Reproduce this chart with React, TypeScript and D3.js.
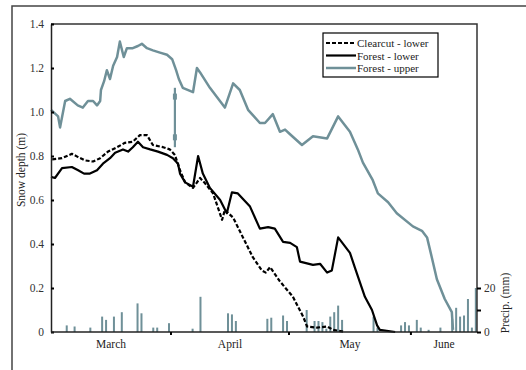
import React, { useEffect, useRef } from 'react';
import * as d3 from 'd3';

// day index: 0 = March 1
const monthNames = ['March', 'April', 'May', 'June'];
const monthStarts = [0, 31, 61, 92, 122];

// Forest - upper snow depth (m)
const upperDays = [0.5, 2.3, 2.8, 4.1, 5.3, 7.3, 8.6, 9.9, 11.2, 12.2, 13, 13.2, 14, 14.7, 15.5, 16.3, 17.3, 18, 19, 19.8,
  21.3, 22.6, 23.6, 24.9, 26.4, 28.2, 30, 31.3, 32.3, 33, 34, 36.6, 37.6, 38.4, 40.9, 44.7, 46.8, 48.5, 50.6, 53.6,
  54.9, 56.9, 58.7, 60, 61.2, 64.3, 67.1, 70.7, 73.5, 76.5, 78.5, 79.8, 82.3, 83.6, 86.2, 88.4, 92.5, 94.8, 96.1,
  97.3, 98.6, 100.6, 102.4, 102.7];
const upperDepth = [1.01, 0.98, 0.93, 1.05, 1.06, 1.03, 1.02, 1.05, 1.05, 1.03, 1.05, 1.10, 1.14, 1.19, 1.15, 1.21, 1.25, 1.32, 1.25, 1.29,
  1.29, 1.30, 1.31, 1.29, 1.28, 1.27, 1.26, 1.24, 1.19, 1.15, 1.11, 1.09, 1.20, 1.18, 1.11, 1.02, 1.13, 1.10, 1.01, 0.95,
  0.95, 0.99, 0.91, 0.92, 0.90, 0.85, 0.89, 0.88, 0.98, 0.91, 0.83, 0.77, 0.69, 0.63, 0.59, 0.54, 0.48, 0.46, 0.43,
  0.34, 0.24, 0.15, 0.09, 0.01];

// Forest - lower snow depth (m)
const lowerDays = [0.5, 1.5, 3.3, 5.8, 7.4, 8.9, 10.4, 12.2, 13.7, 15.5, 16.8, 18.8, 20.1, 21.3, 22.6, 23.9, 25.7, 27.7, 30,
  31.5, 32.8, 33.3, 34.6, 36.6, 37.9, 39.1, 40.9, 43.5, 45.2, 46.5, 48, 51.1, 53.6, 55.7, 57.4, 59.5, 61.3, 63, 63.8,
  67.1, 68.9, 70.7, 71.9, 73.5, 76.5, 77.8, 80.3, 82.1, 83.4, 84.1, 88];
const lowerDepth = [0.705, 0.70, 0.745, 0.75, 0.735, 0.72, 0.72, 0.735, 0.765, 0.79, 0.815, 0.83, 0.82, 0.84, 0.865, 0.84, 0.83, 0.82, 0.805,
  0.79, 0.765, 0.72, 0.68, 0.66, 0.80, 0.72, 0.655, 0.60, 0.54, 0.635, 0.63, 0.57, 0.47, 0.477, 0.47, 0.41, 0.405, 0.386, 0.32,
  0.305, 0.31, 0.27, 0.28, 0.43, 0.36, 0.29, 0.16, 0.10, 0.03, 0.01, 0.0];

// Clearcut - lower snow depth (m)
const clearDays = [0.8, 3.3, 5.8, 7.4, 9.1, 11.2, 13, 15, 17.3, 19.3, 21.3, 23.1, 24.9, 26.4, 29, 30.7, 32, 33.3, 34.6, 36.6,
  38.4, 39.6, 41.7, 44, 44.7, 46.8, 49.3, 51.8, 54.1, 55.1, 56.2, 58.7, 62, 64.6, 65.6, 68.1, 70.7, 72.2, 75.2];
const clearDepth = [0.785, 0.79, 0.81, 0.795, 0.78, 0.775, 0.79, 0.82, 0.84, 0.86, 0.865, 0.895, 0.895, 0.85, 0.84, 0.83, 0.805, 0.735, 0.68, 0.655,
  0.70, 0.677, 0.63, 0.51, 0.555, 0.52, 0.43, 0.34, 0.28, 0.27, 0.295, 0.23, 0.16, 0.07, 0.025, 0.02, 0.025, 0.01, 0];

// daily precipitation (mm)
const precipDays = [4, 6, 10, 13, 14, 16, 18, 22, 23, 26, 27, 30, 36, 38, 45, 46, 47, 55, 56, 59, 60, 65, 67, 68, 69, 70, 71, 72,
  73, 74, 82, 83, 89, 90, 91, 93, 94, 96, 99, 102, 103, 104, 105, 106, 107, 108];
const precipMm = [3, 2.5, 2, 7, 5.5, 7, 9, 13, 8.5, 2, 2, 4, 1.5, 16, 8.5, 8, 5, 6, 6.5, 7.5, 5, 10, 5, 5, 4.5, 1.5, 7, 9,
  12, 5.5, 7, 2, 3, 4.5, 3, 5.5, 2, 1, 2, 6, 11, 7, 7.5, 15, 2, 20];

// annotation bar (day, top, bottom) in m
const markDay = 32;
const markRange = [1.11, 0.84];
const markTicks = [1.07, 0.885];

const depthTicks = [0, 0.2, 0.4, 0.6, 0.8, 1.0, 1.2, 1.4];
const precipTicks = [0, 10, 20];

const legendItems = [
  { label: 'Clearcut - lower', color: '#000', dash: '4,2', width: 2.2 },
  { label: 'Forest - lower', color: '#000', dash: null, width: 2.2 },
  { label: 'Forest - upper', color: '#6f9098', dash: null, width: 2.5 },
];

const GRAY = '#6f9098';
const FONT = "'Liberation Serif', 'Times New Roman', serif";

const SnowChart = () => {
  const svgRef = useRef<SVGSVGElement>(null);

  useEffect(() => {
    if (!svgRef.current) return;
    const svg = d3.select(svgRef.current);
    svg.selectAll('*').remove();

    const left = 51, right = 477, top = 24, bottom = 332;

    const x = d3.scaleLinear().domain([0.5, 108.8]).range([left, right]);
    const y = d3.scaleLinear().domain([0, 1.4]).range([bottom, top]);
    const yP = d3.scaleLinear().domain([0, 140]).range([bottom, top]);

    // outer figure frame
    svg.append('path')
      .attr('d', `M12,370 V6 H526`)
      .attr('fill', 'none')
      .attr('stroke', '#444')
      .attr('stroke-width', 1.5);

    // precip bars
    svg.append('g').selectAll('rect')
      .data(precipDays.map((d, i) => ({ d, v: precipMm[i] })))
      .enter()
      .append('rect')
      .attr('x', p => x(p.d + 0.5) - 1)
      .attr('width', 2)
      .attr('y', p => yP(p.v))
      .attr('height', p => bottom - yP(p.v))
      .attr('fill', GRAY);

    const line = d3.line<[number, number]>()
      .x(p => x(p[0]))
      .y(p => y(p[1]));

    const series = [
      { days: upperDays, vals: upperDepth, color: GRAY, width: 2.5, dash: null },
      { days: lowerDays, vals: lowerDepth, color: '#000', width: 2.2, dash: null },
      { days: clearDays, vals: clearDepth, color: '#000', width: 2.2, dash: '4,2' },
    ];
    series.forEach(s => {
      svg.append('path')
        .datum(s.days.map((d, i) => [d, s.vals[i]] as [number, number]))
        .attr('d', line)
        .attr('fill', 'none')
        .attr('stroke', s.color)
        .attr('stroke-width', s.width)
        .attr('stroke-linejoin', 'round')
        .attr('stroke-dasharray', s.dash);
    });

    // annotation bar
    svg.append('line')
      .attr('x1', x(markDay)).attr('x2', x(markDay))
      .attr('y1', y(markRange[0])).attr('y2', y(markRange[1]))
      .attr('stroke', GRAY).attr('stroke-width', 2.2);
    svg.append('g').selectAll('rect')
      .data(markTicks)
      .enter()
      .append('rect')
      .attr('x', x(markDay) - 2)
      .attr('y', d => y(d) - 3)
      .attr('width', 4)
      .attr('height', 6)
      .attr('fill', GRAY);

    // plot frame top + right
    svg.append('path')
      .attr('d', `M${left},${top} H${right} V${bottom}`)
      .attr('fill', 'none')
      .attr('stroke', '#333')
      .attr('stroke-width', 1.5);

    // left axis
    const ax = svg.append('g')
      .attr('transform', `translate(${left},0)`)
      .call(d3.axisLeft(y).tickValues(depthTicks).tickSize(-3).tickSizeOuter(0).tickPadding(7)
        .tickFormat(d => (+d === 0 ? '0' : (+d).toFixed(1))));
    ax.select('.domain').attr('stroke', '#222').attr('stroke-width', 1.5);
    ax.selectAll('.tick line').attr('stroke', '#000').attr('stroke-width', 2);
    ax.selectAll('.tick text').style('font-family', FONT).style('font-size', '11.5px').attr('fill', '#333');

    // bottom axis
    svg.append('line')
      .attr('x1', left).attr('x2', right).attr('y1', bottom).attr('y2', bottom)
      .attr('stroke', '#222').attr('stroke-width', 1.5);
    svg.append('g').selectAll('line')
      .data(monthStarts.slice(1, 4))
      .enter()
      .append('line')
      .attr('x1', d => x(d)).attr('x2', d => x(d))
      .attr('y1', bottom).attr('y2', bottom + 3)
      .attr('stroke', '#000').attr('stroke-width', 2);
    const [d0, d1] = x.domain();
    svg.append('g').selectAll('text')
      .data(monthNames)
      .enter()
      .append('text')
      .attr('x', (m, i) => (x(Math.max(monthStarts[i], d0)) + x(Math.min(monthStarts[i + 1], d1))) / 2)
      .attr('y', 348)
      .attr('text-anchor', 'middle')
      .style('font-family', FONT)
      .style('font-size', '11.5px')
      .attr('fill', '#222')
      .text(m => m);

    // right axis (precip)
    const axr = svg.append('g')
      .attr('transform', `translate(${right},0)`)
      .call(d3.axisRight(yP).tickValues(precipTicks).tickSize(4).tickSizeOuter(0).tickPadding(3)
        .tickFormat(d => (+d === 10 ? '' : String(d))));
    axr.select('.domain').remove();
    axr.selectAll('.tick line').attr('stroke', '#000').attr('stroke-width', 2);
    axr.selectAll('.tick text').style('font-family', FONT).style('font-size', '11.5px').attr('fill', '#333');

    // axis titles
    svg.append('text')
      .attr('transform', 'translate(25,170) rotate(-90)')
      .attr('text-anchor', 'middle')
      .style('font-family', FONT)
      .style('font-size', '11.5px')
      .attr('fill', '#222')
      .text('Snow depth (m)');
    svg.append('text')
      .attr('transform', 'translate(509,303) rotate(-90)')
      .attr('text-anchor', 'middle')
      .style('font-family', FONT)
      .style('font-size', '11.5px')
      .attr('fill', '#222')
      .text('Precip. (mm)');

    // legend
    const lg = svg.append('g');
    lg.append('rect')
      .attr('x', 323).attr('y', 33).attr('width', 115).attr('height', 44)
      .attr('fill', '#fff').attr('stroke', '#000').attr('stroke-width', 1.2);
    legendItems.forEach((it, i) => {
      const ly = 43 + i * 12.5;
      lg.append('line')
        .attr('x1', 326).attr('x2', 356).attr('y1', ly).attr('y2', ly)
        .attr('stroke', it.color).attr('stroke-width', it.width)
        .attr('stroke-dasharray', it.dash);
      lg.append('text')
        .attr('x', 357).attr('y', ly + 4)
        .style('font-family', FONT)
        .style('font-size', '11px')
        .attr('fill', '#222')
        .text(it.label);
    });
  }, []);

  return <svg ref={svgRef} width={526} height={370} style={{ position: 'absolute', left: 0, top: 0, background: '#fff' }} />;
};

export default function App() {
  return <SnowChart />;
}
